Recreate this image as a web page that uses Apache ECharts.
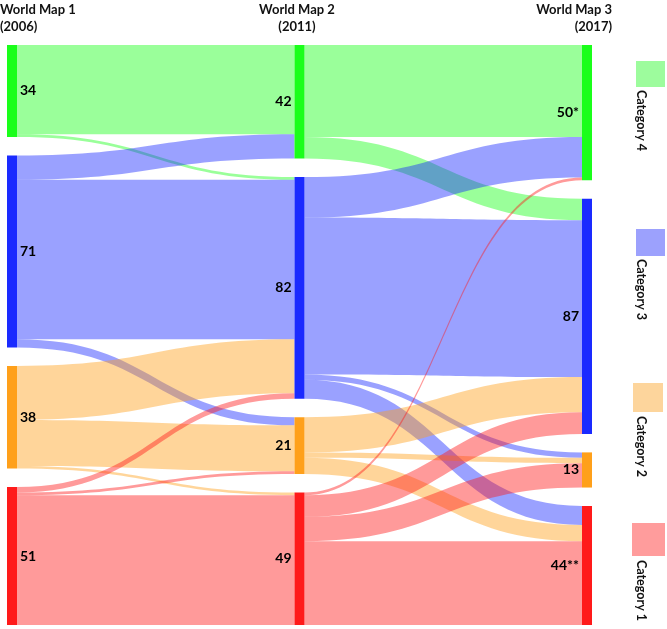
<!DOCTYPE html>
<html>
<head>
<meta charset="utf-8">
<script src="https://cdn.jsdelivr.net/npm/echarts@6/dist/echarts.min.js"></script>
<style>html,body{margin:0;padding:0;background:#fff;}#c{width:667px;height:629px;}</style>
</head>
<body>
<div id="c"></div>
<script>
// ---- data ----
const columnTitles = ['World Map 1\n(2006)', 'World Map 2\n(2011)', 'World Map 3\n(2017)'];
const categories = ['Category 4', 'Category 3', 'Category 2', 'Category 1'];
const map1Values = [34, 71, 38, 51];
const map2Values = [42, 82, 21, 49];
const map3Values = [50, 87, 13, 44];
const map1Labels = ['34', '71', '38', '51'];
const map2Labels = ['42', '82', '21', '49'];
const map3Labels = ['50*', '87', '13', '44**'];
// flows[source category][target category], order: Category 4, 3, 2, 1
const flows12 = [
  [33, 1, 0, 0],
  [9, 59, 3, 0],
  [0, 20, 17, 1],
  [0, 2, 1, 48]
];
const flows23 = [
  [34, 8, 0, 0],
  [15, 58, 2, 7],
  [0, 13, 2, 6],
  [1, 8, 9, 31]
];

// ---- styles ----
const nodeColors = ['#1aff1a', '#1a2aff', '#ffa01a', '#ff1a1a'];
const legendColors = ['#9dfc9d', '#9ca1fd', '#fdd59c', '#ff9c9c'];
const FONT = 'Lato, "Open Sans", sans-serif';

const columns = [
  {values: map1Values, labels: map1Labels, pos: 'right'},
  {values: map2Values, labels: map2Labels, pos: 'left'},
  {values: map3Values, labels: map3Labels, pos: 'left'}
];
const nodes = [];
columns.forEach((col, ci) => {
  categories.forEach((cat, k) => {
    nodes.push({
      name: 'm' + (ci + 1) + '_' + k,
      value: col.values[k],
      depth: ci,
      itemStyle: {color: nodeColors[k], borderWidth: 0},
      label: {position: col.pos, formatter: col.labels[k]}
    });
  });
});
const links = [];
[flows12, flows23].forEach((fl, si) => {
  fl.forEach((row, a) => {
    row.forEach((v, b) => {
      if (v > 0) links.push({source: 'm' + (si + 1) + '_' + a, target: 'm' + (si + 2) + '_' + b, value: v});
    });
  });
});

const graphic = [];
// column titles
const titleX = [0, 297, 612];
const titleAlign = ['left', 'center', 'right'];
columnTitles.forEach((t, i) => {
  graphic.push({
    type: 'text', x: titleX[i], y: 1,
    style: {text: t, textAlign: titleAlign[i], textVerticalAlign: 'top', font: 'bold 13px ' + FONT, fill: '#111', lineHeight: 17}
  });
});
// legend
const legendRects = [[636, 61, 29, 26], [636, 229, 29, 27], [633, 383, 30, 29], [632, 523, 33, 33]];
const legendTextY = [90, 259, 416, 560];
categories.forEach((cat, k) => {
  const r = legendRects[k];
  graphic.push({type: 'rect', shape: {x: r[0], y: r[1], width: r[2], height: r[3]}, style: {fill: legendColors[k]}});
  graphic.push({
    type: 'text', x: 641, y: legendTextY[k], rotation: -Math.PI / 2,
    style: {text: cat, textAlign: 'left', textVerticalAlign: 'middle', font: 'bold 12.5px ' + FONT, fill: '#111'}
  });
});

const chart = echarts.init(document.getElementById('c'));
chart.setOption({
  animation: false,
  backgroundColor: '#fff',
  graphic: graphic,
  series: [{
    type: 'sankey',
    left: 7, right: 75, top: 45, bottom: 4,
    nodeWidth: 10,
    nodeGap: 18.5,
    layoutIterations: 0,
    nodeAlign: 'justify',
    draggable: false,
    emphasis: {disabled: true},
    label: {color: '#000', fontFamily: FONT, fontWeight: 'bold', fontSize: 14, distance: 3},
    lineStyle: {color: 'source', opacity: 0.44, curveness: 0.5},
    data: nodes,
    links: links
  }]
});
</script>
</body>
</html>
